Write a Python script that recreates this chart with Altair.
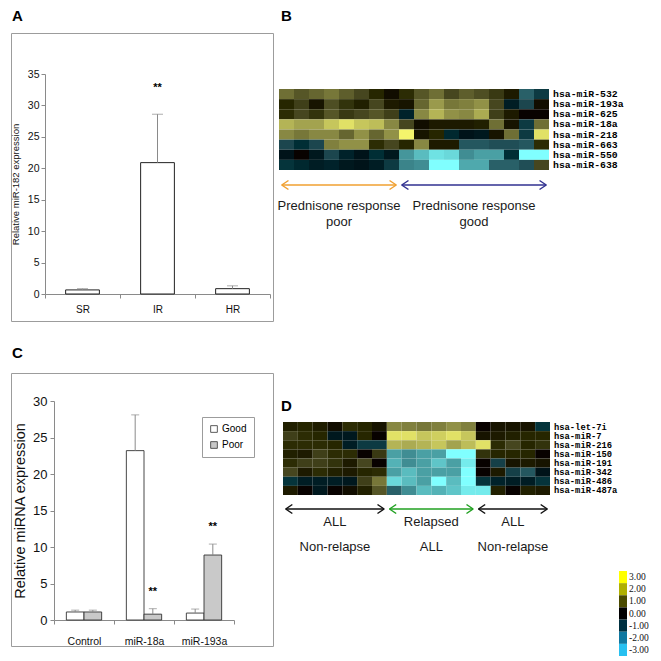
import altair as alt
import pandas as pd

# ---------------- data ----------------
panel_letters = ["A", "B", "C", "D"]

# Panel A
a_groups = ["SR", "IR", "HR"]
a_means = [0.65, 20.9, 0.85]
a_errs = [0.2, 7.7, 0.45]
a_marks = ["", "**", ""]
a_title = "Relative miR-182 expression"

# Panel C
c_categories = ["Control", "miR-18a", "miR-193a"]
c_series = ["Good", "Poor"]
c_good_means = [1.1, 23.2, 0.95]
c_good_errs = [0.25, 4.9, 0.55]
c_poor_means = [1.1, 0.8, 8.9]
c_poor_errs = [0.25, 0.75, 1.5]
c_poor_marks = ["", "**", "**"]
c_title = "Relative miRNA expression"

# Panel B heatmap
b_mirnas = ["hsa-miR-532", "hsa-miR-193a", "hsa-miR-625", "hsa-miR-18a",
            "hsa-miR-218", "hsa-miR-663", "hsa-miR-550", "hsa-miR-638"]
b_values = [
    [1.5, 1.2, 1.4, 1.6, 1.3, 1.0, 0.5, 0.1, 0.6, 1.2, 1.5, 1.0, 1.3, 1.1, 0.8, 0.3, -1.3, -0.8],
    [0.5, 0.9, 0.2, 1.1, 0.7, 0.4, 1.0, 0.3, 0.2, 1.4, 2.0, 1.6, 1.7, 1.9, 1.0, -0.3, -1.0, 0.1],
    [0.6, 1.0, 0.7, 1.2, 0.8, 1.0, 1.2, 0.9, -0.4, 1.8, 2.3, 1.9, 1.8, 2.2, 0.9, 0.3, 0.0, 0.0],
    [2.3, 2.1, 2.1, 2.5, 2.8, 2.5, 2.4, 1.8, 1.0, 0.1, 0.3, 0.3, 0.3, 0.4, 1.5, 0.2, -0.8, 1.5],
    [1.8, 1.6, 1.8, 1.8, 1.4, 1.9, 1.4, 1.9, 3.0, 0.2, 0.5, -0.5, -0.1, -0.2, 0.2, 1.5, -0.8, 2.8],
    [-1.0, -0.6, -1.0, 1.7, 1.9, 1.9, 0.6, 1.0, 0.5, 1.8, 0.3, 0.3, -1.2, -1.2, -1.1, -1.1, -1.2, 0.6],
    [-0.1, 0.0, -0.2, -1.0, -0.4, -0.1, -0.6, -0.2, -1.9, -2.3, -2.7, -2.6, -1.8, -2.0, -2.0, -0.6, -3.0, -3.0],
    [-0.7, -0.5, -0.3, -0.4, -0.2, -0.1, -0.3, -0.8, -1.7, -1.8, -3.0, -3.0, -2.1, -2.1, -1.3, -1.3, -1.1, 1.0],
]
b_group_line1 = ["Prednisone response", "Prednisone response"]
b_group_line2 = ["poor", "good"]
b_group_sizes = [8, 10]

# Panel D heatmap
d_mirnas = ["hsa-let-7i", "hsa-miR-7", "hsa-miR-216", "hsa-miR-150",
            "hsa-miR-191", "hsa-miR-342", "hsa-miR-486", "hsa-miR-487a"]
d_values = [
    [0.4, 0.5, 0.35, 0.1, 0.6, 0.5, 0.2, 1.8, 1.7, 1.6, 1.7, 1.9, 1.7, 0.0, 0.2, 0.2, 0.2, -0.7],
    [0.9, 0.6, 0.5, -0.2, -0.2, 0.5, 0.0, 2.8, 2.8, 2.5, 2.6, 2.8, 2.5, 0.2, 0.3, 0.4, 0.5, 0.5],
    [0.6, 0.6, 0.6, 0.5, -0.3, -0.8, -0.8, 2.3, 2.2, 2.3, 2.5, 2.1, 2.4, 2.8, 0.6, 1.0, 0.5, 0.7],
    [0.4, 0.3, 0.9, 0.6, 0.6, 0.0, 0.8, -2.0, -1.8, -2.0, -2.0, -3.0, -3.0, 0.7, 0.5, 0.5, 0.5, 0.0],
    [0.6, 0.9, 0.9, 0.7, 0.3, 1.0, 0.0, -2.2, -1.8, -2.0, -2.4, -2.0, -2.8, 0.0, -0.9, 0.2, 0.3, 0.2],
    [1.0, 0.3, 0.6, 0.4, 0.3, 0.5, 0.6, -2.0, -2.3, -2.0, -2.0, -2.0, -3.0, 0.0, 0.3, -0.9, -1.2, -0.1],
    [-0.7, -0.3, -0.3, -0.3, -0.2, 0.9, 1.6, -2.6, -2.3, -2.0, -3.0, -2.3, -3.0, -0.7, -0.4, -0.3, -0.3, -0.7],
    [0.3, 0.0, -0.2, 0.0, 0.1, 0.4, 1.2, -1.3, -1.8, -2.3, -2.2, -2.4, -2.8, -2.8, 0.4, 0.0, 0.4, 0.3],
]
d_group_line1 = ["ALL", "Relapsed", "ALL"]
d_group_line2 = ["Non-relapse", "ALL", "Non-relapse"]
d_group_sizes = [7, 6, 5]

key_labels = ["3.00", "2.00", "1.00", "0.00", "-1.00", "-2.00", "-3.00"]

# ---------------- styles ----------------
FONT = "Liberation Sans"
MONO = "Liberation Mono"
GRAY = "#8a8a8a"
BOX = "#9c9c9c"
heat_scale = alt.Scale(domain=[-3, -2, -1, 0, 1, 2, 3],
                       range=["#80ffff", "#4aa0a4", "#1c464e", "#000000",
                              "#46461f", "#9a9a4c", "#f4f46c"])
key_colors = ["#ffff00", "#b0b000", "#4a4a00", "#000000", "#003040", "#1078a0", "#28c0f0"]


def letter(ch, x, y):
    return alt.Chart(pd.DataFrame({"t": [ch]})).mark_text(
        align="left", baseline="top", font=FONT, fontWeight="bold", fontSize=15
    ).encode(text="t:N", x=alt.value(x), y=alt.value(y))


# ---------------- panel A ----------------
a_df = pd.DataFrame({"g": a_groups, "mean": a_means, "err": a_errs, "mark": a_marks})
a_df["top"] = a_df["mean"] + a_df["err"]
ax = alt.X("g:N", sort=a_groups,
           scale=alt.Scale(range=[34, 259], paddingInner=0, paddingOuter=0),
           axis=alt.Axis(offset=-27, tickBand="extent", labelAngle=0, title=None,
                         domainColor=GRAY, tickColor=GRAY, tickSize=4,
                         labelFontSize=10, labelPadding=6))
ay_scale = alt.Scale(domain=[0, 35], range=[261, 41], nice=False)
ay = alt.Y("mean:Q", scale=ay_scale,
           axis=alt.Axis(offset=-34, values=list(range(0, 36, 5)), tickSize=4,
                         domainColor=GRAY, tickColor=GRAY, labelFontSize=10.5,
                         labelPadding=2, grid=False, title=a_title,
                         titleFontSize=9.5, titleFontWeight="normal", titlePadding=7))
a_bars = alt.Chart(a_df).mark_bar(fill="white", stroke="#222", strokeWidth=1,
                                  width={"band": 0.45}).encode(x=ax, y=ay)
a_err = alt.Chart(a_df).mark_rule(color=GRAY, strokeWidth=1).encode(
    x=alt.X("g:N", sort=a_groups), y=alt.Y("mean:Q", scale=ay_scale), y2="top:Q")
a_cap = alt.Chart(a_df).mark_tick(color=GRAY, size=11, thickness=1).encode(
    x=alt.X("g:N", sort=a_groups), y=alt.Y("top:Q", scale=ay_scale))
a_star = alt.Chart(a_df).mark_text(fontSize=11, fontWeight="bold", dy=-26).encode(
    x=alt.X("g:N", sort=a_groups), y=alt.Y("top:Q", scale=ay_scale), text="mark:N")
panel_a = alt.layer(a_bars, a_err, a_cap, a_star, letter(panel_letters[0], 1, -24)).properties(
    width=262, height=288, view=alt.ViewBackground(stroke=BOX, strokeWidth=1))


# ---------------- heatmaps ----------------
def heatmap_layers(mirnas, values, sizes, line1, line2, colors, xr, yr,
                   label_x, label_size, arrow_y, text_y1, text_y2):
    n = len(values[0])
    rows = []
    for i in range(len(mirnas)):
        for j in range(n):
            rows.append({"row": i, "row2": i + 1, "col": j, "col2": j + 1, "value": values[i][j]})
    df = pd.DataFrame(rows)
    xs = alt.Scale(domain=[0, n], range=xr, nice=False, zero=False)
    ys = alt.Scale(domain=[0, len(mirnas)], range=yr, nice=False, zero=False)
    heat = alt.Chart(df).mark_rect(strokeWidth=0).encode(
        x=alt.X("col:Q", scale=xs, axis=None), x2="col2:Q",
        y=alt.Y("row:Q", scale=ys, axis=None), y2="row2:Q",
        color=alt.Color("value:Q", scale=heat_scale, legend=None))
    lab = alt.Chart(pd.DataFrame({"m": mirnas, "y": [i + 0.5 for i in range(len(mirnas))]})).mark_text(
        align="left", baseline="middle", font=MONO, fontWeight="bold", fontSize=label_size
    ).encode(x=alt.value(label_x), y=alt.Y("y:Q", scale=ys, axis=None), text="m:N")

    starts, ends = [], []
    s = 0
    for k in sizes:
        starts.append(s)
        ends.append(s + k)
        s += k
    gids = [f"g{i}" for i in range(len(sizes))]
    gap, head = 0.18, 0.45
    shaft_df = pd.DataFrame({"g": gids, "x": [a + gap for a in starts], "x2": [b - gap for b in ends]})
    head_rows = []
    for g, a, b in zip(gids, starts, ends):
        head_rows.append({"g": g, "x": a + gap, "x2": a + gap + head})
        head_rows.append({"g": g, "x": b - gap, "x2": b - gap - head})
    head_df = pd.DataFrame(head_rows)
    stroke = alt.Stroke("g:N", scale=alt.Scale(domain=gids, range=colors), legend=None)
    shaft = alt.Chart(shaft_df).mark_rule(strokeWidth=1.5).encode(
        x=alt.X("x:Q", scale=xs, axis=None), x2="x2:Q", y=alt.value(arrow_y), stroke=stroke)
    up = alt.Chart(head_df).mark_rule(strokeWidth=1.5).encode(
        x=alt.X("x:Q", scale=xs, axis=None), x2="x2:Q",
        y=alt.value(arrow_y), y2=alt.value(arrow_y - 4.5), stroke=stroke)
    down = alt.Chart(head_df).mark_rule(strokeWidth=1.5).encode(
        x=alt.X("x:Q", scale=xs, axis=None), x2="x2:Q",
        y=alt.value(arrow_y), y2=alt.value(arrow_y + 4.5), stroke=stroke)
    tdf = pd.DataFrame({"c": [(a + b) / 2 for a, b in zip(starts, ends)], "l1": line1, "l2": line2})
    t1 = alt.Chart(tdf).mark_text(fontSize=13, font=FONT, color="#1a1a1a", baseline="middle").encode(
        x=alt.X("c:Q", scale=xs, axis=None), y=alt.value(text_y1), text="l1:N")
    t2 = alt.Chart(tdf).mark_text(fontSize=13, font=FONT, color="#1a1a1a", baseline="middle").encode(
        x=alt.X("c:Q", scale=xs, axis=None), y=alt.value(text_y2), text="l2:N")
    return [heat, lab, shaft, up, down, t1, t2]


panel_b = alt.layer(
    *heatmap_layers(b_mirnas, b_values, b_group_sizes, b_group_line1, b_group_line2,
                    ["#f0a030", "#303090"], [0, 270], [56, 137], 274, 9.8, 152, 173, 189),
    letter(panel_letters[1], 2, -24)
).properties(width=270, height=288)

# colour key (drawn inside panel D's view, to its right)
key_df = pd.DataFrame({"k": key_labels})
key_y = alt.Y("k:N", sort=key_labels,
              scale=alt.Scale(range=[198, 283], paddingInner=0, paddingOuter=0), axis=None)
key_rect = alt.Chart(key_df).mark_rect().encode(
    x=alt.value(340), x2=alt.value(348), y=key_y,
    color=alt.Color("k:N", scale=alt.Scale(domain=key_labels, range=key_colors), legend=None))
key_text = alt.Chart(key_df).mark_text(
    align="left", baseline="middle", fontSize=9.5, font="Liberation Sans Narrow", color="#111"
).encode(x=alt.value(350), y=key_y, text="k:N")

panel_d = alt.layer(
    *heatmap_layers(d_mirnas, d_values, d_group_sizes, d_group_line1, d_group_line2,
                    ["#111111", "#20a020", "#111111"], [4, 271], [49, 122], 275, 8.8, 136, 149, 174),
    letter(panel_letters[3], 2, 26), key_rect, key_text
).resolve_scale(y="independent", color="independent").properties(width=270, height=283)

# ---------------- panel C ----------------
c_rows = []
for i, cat in enumerate(c_categories):
    c_rows.append({"cat": cat, "s": "Good", "mean": c_good_means[i], "err": c_good_errs[i], "mark": ""})
    c_rows.append({"cat": cat, "s": "Poor", "mean": c_poor_means[i], "err": c_poor_errs[i], "mark": c_poor_marks[i]})
c_df = pd.DataFrame(c_rows)
c_df["top"] = c_df["mean"] + c_df["err"]
cx = alt.X("cat:N", sort=c_categories,
           scale=alt.Scale(range=[43, 223], paddingInner=0, paddingOuter=0),
           axis=alt.Axis(offset=-26, tickBand="extent", labelAngle=0, title=None,
                         domainColor=GRAY, tickColor=GRAY, tickSize=4,
                         labelFontSize=10.5, labelPadding=12))
cxo = alt.XOffset("s:N", sort=c_series, scale=alt.Scale(paddingInner=0, paddingOuter=0.7))
cy_scale = alt.Scale(domain=[0, 30], range=[247, 28], nice=False)
cy = alt.Y("mean:Q", scale=cy_scale,
           axis=alt.Axis(offset=-43, values=list(range(0, 31, 5)), tickSize=4,
                         domainColor=GRAY, tickColor=GRAY, labelFontSize=13,
                         labelPadding=3, grid=False, title=c_title,
                         titleFontSize=14.5, titleFontWeight="normal", titlePadding=5))
c_bars = alt.Chart(c_df).mark_bar(stroke="#333", strokeWidth=0.9).encode(
    x=cx, xOffset=cxo, y=cy,
    color=alt.Color("s:N", sort=c_series,
                    scale=alt.Scale(domain=c_series, range=["white", "#c9c9c9"]),
                    legend=alt.Legend(orient="none", legendX=191, legendY=44, title=None,
                                      strokeColor=BOX, padding=7, fillColor="white",
                                      symbolType="square", symbolSize=45,
                                      symbolStrokeColor="#333", symbolStrokeWidth=0.8,
                                      labelFontSize=10, rowPadding=6, labelOffset=3)))
c_err = alt.Chart(c_df).mark_rule(color=GRAY, strokeWidth=1).encode(
    x=alt.X("cat:N", sort=c_categories), xOffset=alt.XOffset("s:N", sort=c_series),
    y=alt.Y("mean:Q", scale=cy_scale), y2="top:Q")
c_cap = alt.Chart(c_df).mark_tick(color=GRAY, size=8, thickness=1).encode(
    x=alt.X("cat:N", sort=c_categories), xOffset=alt.XOffset("s:N", sort=c_series),
    y=alt.Y("top:Q", scale=cy_scale))
c_star = alt.Chart(c_df).mark_text(fontSize=11, fontWeight="bold", dy=-17).encode(
    x=alt.X("cat:N", sort=c_categories), xOffset=alt.XOffset("s:N", sort=c_series),
    y=alt.Y("top:Q", scale=cy_scale), text="mark:N")
panel_c = alt.layer(c_bars, c_err, c_cap, c_star, letter(panel_letters[2], 1, -27)).properties(
    width=262, height=273, view=alt.ViewBackground(stroke=BOX, strokeWidth=1))

chart = alt.concat(panel_a, panel_b, panel_c, panel_d, columns=2,
                   spacing={"row": 52, "column": 6}, bounds="flush").resolve_scale(
    color="independent", stroke="independent"
).properties(
    padding={"left": 1, "top": 0, "right": 0, "bottom": 0}
).configure(font=FONT).configure_view(stroke=None).configure_axis(
    labelColor="#111", titleColor="#111", labelFont=FONT, titleFont=FONT)

chart.save("out.html", embed_options={"renderer": "svg", "actions": False})
